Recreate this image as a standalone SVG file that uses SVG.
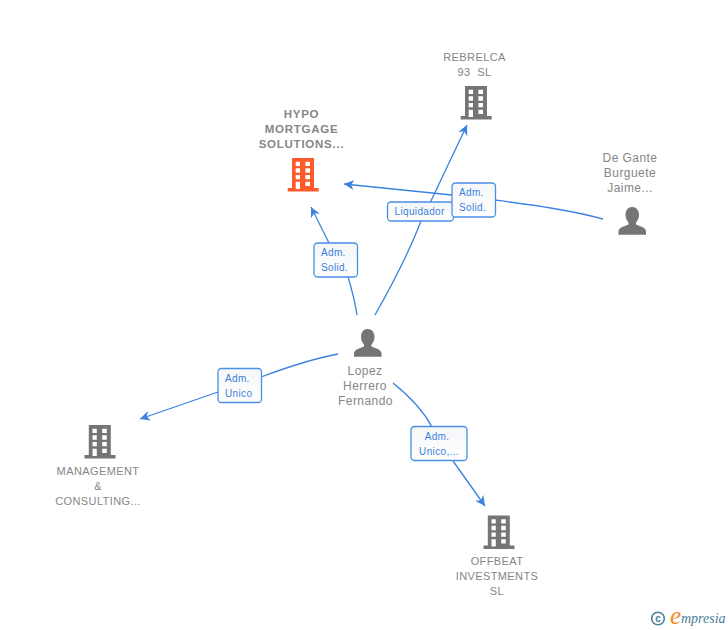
<svg xmlns="http://www.w3.org/2000/svg" width="728" height="630" viewBox="0 0 728 630">
<style>
text{font-family:"Liberation Sans",Arial,sans-serif}
.n{font-size:11px;fill:#868686;text-anchor:middle;letter-spacing:.4px}
.p{font-size:12px;letter-spacing:.45px}
.b{font-weight:bold;font-size:11.500px;letter-spacing:.75px}
.l{font-size:10px;fill:#3b7fdc;letter-spacing:.35px}
.c{fill:none;stroke:#3b82e0;stroke-width:1.300}
.box{fill:url(#g);stroke:#4a8fe6;stroke-width:1.300}
</style>
<defs>
<linearGradient id="g" x1="0" y1="0" x2="0" y2="1"><stop offset="0" stop-color="#f5f6f8"/><stop offset="1" stop-color="#fff"/></linearGradient>
<marker id="a" viewBox="0 0 10 10" refX="10" refY="5" markerWidth="10" markerHeight="10" markerUnits="userSpaceOnUse" orient="auto"><path d="M10 5L0 0L3 5L0 10Z" fill="#3b82e0"/></marker>
<symbol id="bld" overflow="visible"><path fill-rule="evenodd" d="M4.300 0H26.300V30H31V33.500H0V30H4.300ZM8 3.700V8H12.300V3.700ZM17.700 3.700V8H22.300V3.700ZM8 10.300V14.700H12.300V10.300ZM17.700 10.300V14.700H22.300V10.300ZM8 17V21.300H12.300V17ZM17.700 17V21.300H22.300V17ZM8 23.700V31H12.300V23.700ZM17.700 23.700V28H22.300V23.700Z"/></symbol>
<symbol id="per" overflow="visible"><path d="M13.700 0C18 0 20.500 3.500 20.500 8C20.500 11.500 18.800 14 17.500 15.500V17.500C20 19 27 20 27.500 24V27.800H0V24C.5 20 7.500 19 10 17.500V15.500C8.700 14 7 11.500 7 8C7 3.500 9.500 0 13.700 0Z"/></symbol>
</defs>
<g id="connectors">
<path class="c" marker-end="url(#a)" d="M329 243L311 207"/>
<path class="c" d="M348 277C352 290 355 302 357 315"/>
<path class="c" marker-end="url(#a)" d="M430 203L467 125"/>
<path class="c" d="M421 221C408 255 392 285 375 315"/>
<path class="c" marker-end="url(#a)" d="M452 195L344 184"/>
<path class="c" d="M495 200C532 205 570 210 603 219"/>
<path class="c" marker-end="url(#a)" d="M218 392L140 419"/>
<path class="c" d="M261 377C285 368 312 359 338 354"/>
<path class="c" d="M393 383C408 395 423 410 432 427"/>
<path class="c" marker-end="url(#a)" d="M453 461L485 506"/>
</g>
<g id="edge-labels">
<rect class="box" x="314" y="243" width="43.500" height="34" rx="3.500"/>
<text class="l" x="321" y="256">Adm.</text><text class="l" x="321" y="271">Solid.</text>
<rect class="box" x="387.500" y="202" width="66" height="19" rx="3.500"/>
<text class="l" x="394.500" y="215">Liquidador</text>
<rect class="box" x="452" y="183" width="43.500" height="34" rx="3.500"/>
<text class="l" x="459" y="196">Adm.</text><text class="l" x="459" y="211">Solid.</text>
<rect class="box" x="218" y="368.500" width="43.500" height="34" rx="3.500"/>
<text class="l" x="225" y="382">Adm.</text><text class="l" x="225" y="397">Unico</text>
<rect class="box" x="411" y="426.500" width="56" height="34" rx="3.500"/>
<text class="l" x="437" y="440" text-anchor="middle">Adm.</text><text class="l" x="439" y="455" text-anchor="middle">Unico,...</text>
</g>
<g id="hypo"><use href="#bld" x="287.700" y="158" fill="#ff5a2b"/>
<text class="n b" x="301.500" y="118">HYPO</text><text class="n b" x="301.500" y="133">MORTGAGE</text><text class="n b" x="301.500" y="148">SOLUTIONS...</text></g>
<g id="rebrelca"><use href="#bld" x="460.700" y="86" fill="#757575"/>
<text class="n" x="474.500" y="61">REBRELCA</text><text class="n" x="474.500" y="76" xml:space="preserve">93  SL</text></g>
<g id="degante"><use href="#per" x="618.500" y="207" fill="#757575"/>
<text class="n p" x="630" y="162">De Gante</text><text class="n p" x="630" y="177">Burguete</text><text class="n p" x="630" y="192">Jaime...</text></g>
<g id="lopez"><use href="#per" x="354" y="329" fill="#757575"/>
<text class="n p" x="365" y="375">Lopez</text><text class="n p" x="365" y="390">Herrero</text><text class="n p" x="365.500" y="405">Fernando</text></g>
<g id="management"><use href="#bld" x="84.500" y="425" fill="#757575"/>
<text class="n" x="98" y="475">MANAGEMENT</text><text class="n" x="98" y="490">&amp;</text><text class="n" x="98" y="505">CONSULTING...</text></g>
<g id="offbeat"><use href="#bld" x="483.500" y="515.500" fill="#757575"/>
<text class="n" x="497" y="565">OFFBEAT</text><text class="n" x="497" y="580">INVESTMENTS</text><text class="n" x="497" y="595">SL</text></g>
<g id="logo">
<circle cx="658" cy="618.500" r="6.300" fill="none" stroke="#4a8098" stroke-width="1.600"/>
<text x="658" y="622" font-size="10" font-weight="bold" fill="#4a8098" text-anchor="middle">c</text>
<text x="670" y="624" font-size="25" fill="#f08a1d" font-style="italic" style="font-family:'Liberation Serif',serif">e</text>
<text x="681" y="622.500" font-size="14" fill="#4a8098" font-style="italic" style="font-family:'Liberation Serif',serif">mpresia</text>
</g>
</svg>
